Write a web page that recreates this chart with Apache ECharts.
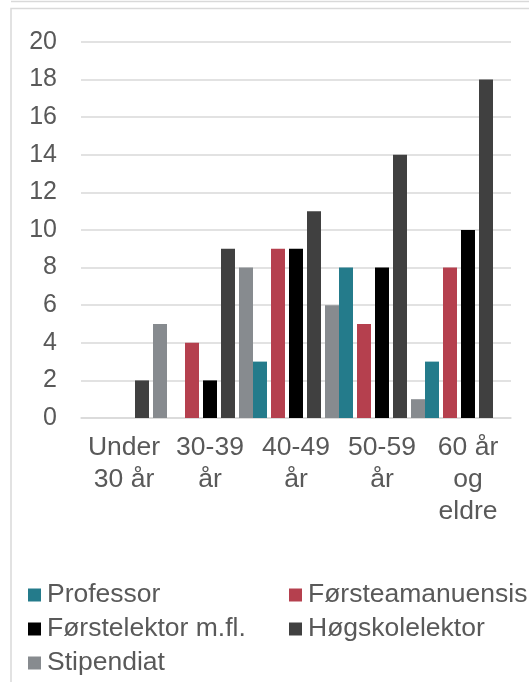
<!DOCTYPE html>
<html lang="no">

<head>
    <meta charset="UTF-8">
    <meta name="viewport" content="width=device-width, initial-scale=1.0">
    <title>Stillinger etter alder</title>
    <script src="https://cdn.jsdelivr.net/npm/echarts@6.0.0/dist/echarts.min.js"></script>
    <style>
        html, body {
            margin: 0;
            padding: 0;
            background-color: #ffffff;
        }

        #chart {
            width: 529px;
            height: 682px;
        }
    </style>
</head>

<body>
    <div id="chart"></div>
    <script>
        var categories = ['Under\n30 år', '30-39\når', '40-49\når', '50-59\når', '60 år\nog\neldre'];
        var professor = [0, 0, 3, 8, 3];
        var forsteamanuensis = [0, 4, 9, 5, 8];
        var forstelektor = [0, 2, 9, 8, 10];
        var hogskolelektor = [2, 9, 11, 14, 18];
        var stipendiat = [5, 8, 6, 1, 0];

        var seriesInfo = [
            { name: 'Professor', color: '#247b8b', values: professor },
            { name: 'Førsteamanuensis', color: '#b5404e', values: forsteamanuensis },
            { name: 'Førstelektor m.fl.', color: '#000000', values: forstelektor },
            { name: 'Høgskolelektor', color: '#404040', values: hogskolelektor },
            { name: 'Stipendiat', color: '#878b8f', values: stipendiat }
        ];

        // legend slots (two columns, three rows)
        var legendPos = [[28, 581.5], [289, 581.5], [28, 615.5], [289, 615.5], [28, 649.5]];

        var font = '"Liberation Sans", Arial, sans-serif';
        var textColor = '#595959';

        var myChart = echarts.init(document.getElementById('chart'));

        var option = {
            animation: false,
            textStyle: { fontFamily: font },
            grid: {
                left: 81,
                right: 18,
                top: 42,
                bottom: 264
            },
            legend: seriesInfo.map(function (s, i) {
                return {
                    data: [s.name],
                    left: legendPos[i][0],
                    top: legendPos[i][1],
                    padding: 0,
                    icon: 'rect',
                    itemWidth: 13,
                    itemHeight: 13,
                    itemGap: 6,
                    selectedMode: false,
                    textStyle: { color: textColor, fontSize: 26.5, fontFamily: font, padding: [0, 0, 0, 1] }
                };
            }),
            xAxis: {
                type: 'category',
                data: categories,
                axisLine: { lineStyle: { color: '#d9d9d9', width: 1.5 } },
                axisTick: { show: false },
                axisLabel: {
                    interval: 0,
                    color: textColor,
                    fontSize: 26.5,
                    lineHeight: 32,
                    margin: 14
                }
            },
            yAxis: {
                type: 'value',
                min: 0,
                max: 20,
                interval: 2,
                axisLine: { show: false },
                axisTick: { show: false },
                splitLine: { lineStyle: { color: '#d9d9d9', width: 1.5 } },
                axisLabel: {
                    color: textColor,
                    fontSize: 25,
                    margin: 24
                }
            },
            series: seriesInfo.map(function (s) {
                return {
                    name: s.name,
                    type: 'bar',
                    data: s.values,
                    barGap: '28.6%',
                    barCategoryGap: '0%',
                    itemStyle: { color: s.color }
                };
            }),
            graphic: [
                {
                    type: 'line',
                    shape: { x1: 11, y1: 1.5, x2: 529, y2: 1.5 },
                    style: { stroke: '#d9d9d9', lineWidth: 1.5 }
                },
                {
                    type: 'rect',
                    shape: { x: 11, y: 8.5, width: 540, height: 700 },
                    style: { fill: 'none', stroke: '#d9d9d9', lineWidth: 1.5 },
                    z: -1
                }
            ]
        };

        myChart.setOption(option);
    </script>
</body>

</html>
